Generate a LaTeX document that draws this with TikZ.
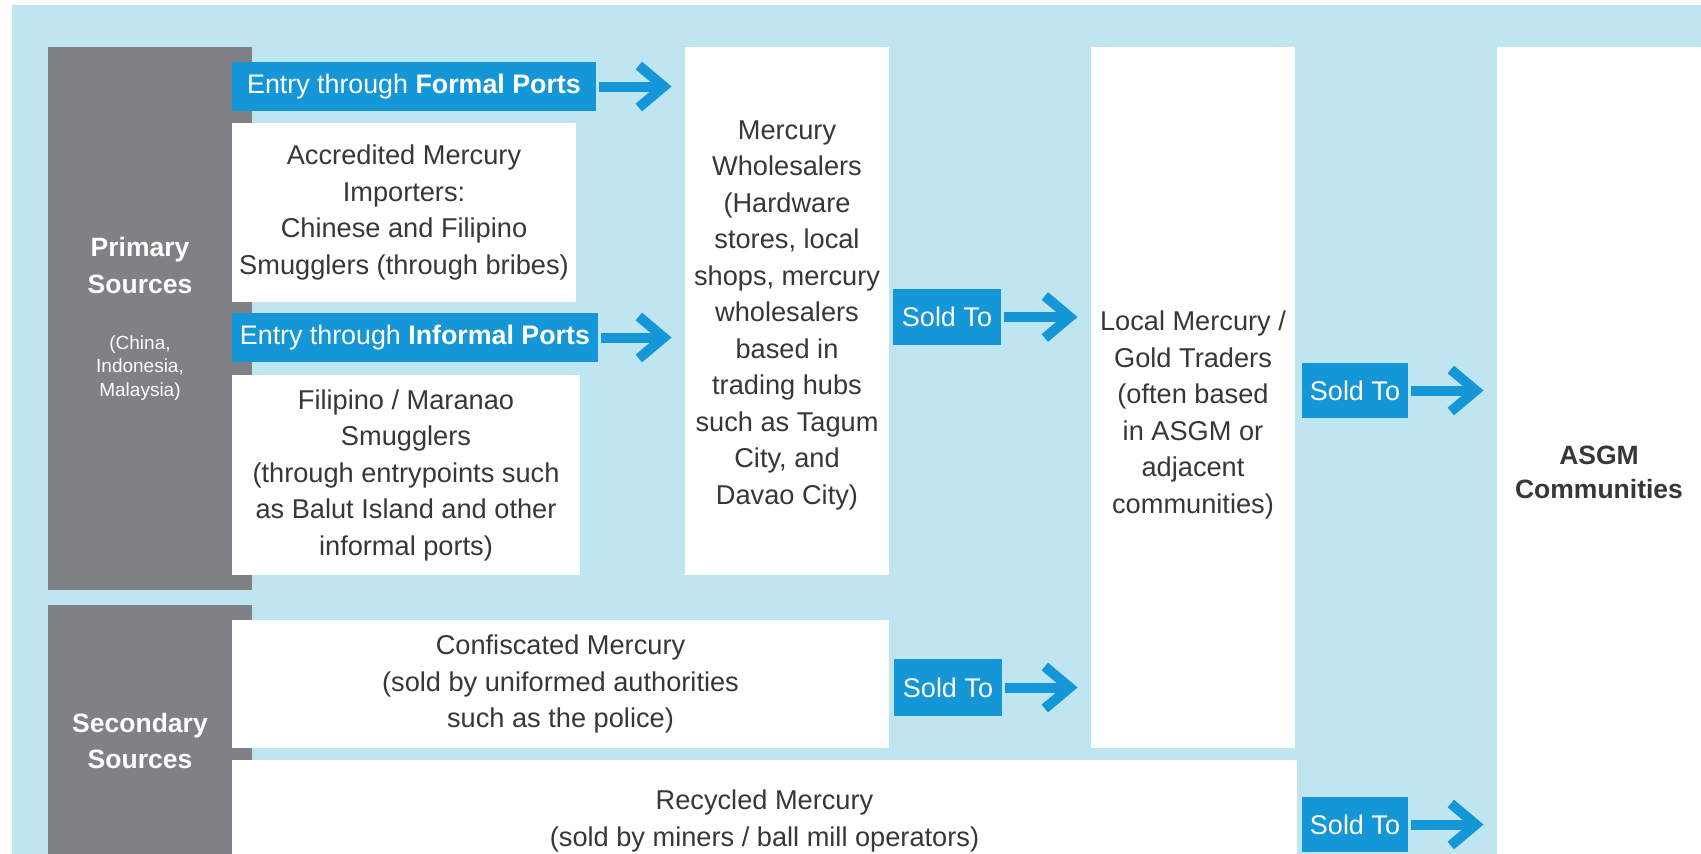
\documentclass[tikz,border=0pt]{standalone}
\usepackage{fontspec}
\setmainfont{Liberation Sans}
\newfontfamily\headfont{Liberation Sans}
\definecolor{bgblue}{RGB}{190,229,240}
\definecolor{srcgray}{RGB}{128,129,132}
\definecolor{flowblue}{RGB}{20,150,215}
\definecolor{txt}{RGB}{55,55,55}
\tikzset{
  wbox/.style={fill=white, inner sep=0pt, text=txt, align=center, font=\fontsize{27.2}{36.5}\selectfont},
  bluelabel/.style={fill=flowblue, inner sep=0pt, text=white, align=center, font=\fontsize{26.8}{30}\selectfont},
  soldbox/.style={fill=flowblue, inner sep=0pt, text=white, font=\fontsize{27}{30}\selectfont},
  graybox/.style={fill=srcgray, inner sep=0pt},
  head/.style={text=white, align=center, inner sep=0pt, font=\headfont\bfseries\fontsize{26.5}{36.5}\selectfont},
  subhead/.style={text=white, align=center, inner sep=0pt, font=\fontsize{19}{23.5}\selectfont},
  bodytext/.style={text=txt, align=center, inner sep=0pt, font=\fontsize{27.2}{36.5}\selectfont},
  asgmtext/.style={text=txt, align=center, inner sep=0pt, font=\headfont\bfseries\fontsize{26.5}{34}\selectfont},
  shaft/.style={draw=flowblue, line width=10pt},
  chev/.style={draw=flowblue, line width=10pt, miter limit=10},
}
\newcommand\flowto[2]{%
  \draw[shaft] ([xshift=3pt]#1.east) -- ([xshift=-21pt]#2.west |- #1.east);
  \draw[chev] ([xshift=-46pt,yshift=21pt]#2.west |- #1.east) -- ([xshift=-21pt]#2.west |- #1.east) -- ([xshift=-46pt,yshift=-21pt]#2.west |- #1.east);
}
\begin{document}
\begin{tikzpicture}[x=1pt,y=-1pt]
\useasboundingbox (0,0) rectangle (1701,854);
\fill[white] (0,0) rectangle (1701,854);
\fill[bgblue] (12,5) rectangle (1701,854);
% source columns
\node[graybox, minimum width=204pt, minimum height=543pt] (prim) at (150,318.5) {};
\node[graybox, minimum width=204pt, minimum height=249pt] (sec) at (150,729.5) {};
\node[head] (primt) at (140,265.5) {Primary\\Sources};
\node[subhead] (primsub) at (140,368) {(China,\\Indonesia,\\Malaysia)};
\node[head] (sect) at (140,741) {Secondary\\Sources};
% primary boxes
\node[bluelabel, minimum width=364pt, minimum height=49pt] (formal) at (414,86.5) {Entry through \textbf{Formal Ports}};
\node[wbox, minimum width=344pt, minimum height=179pt] (accr) at (404,212.5) {Accredited Mercury\\Importers:\\Chinese and Filipino\\Smugglers (through bribes)};
\node[bluelabel, minimum width=366pt, minimum height=49pt] (informal) at (415,337.5) {Entry through \textbf{Informal Ports}};
\node[wbox, minimum width=348pt, minimum height=200pt] (fili) at (406,475) {Filipino / Maranao\\Smugglers\\(through entrypoints such\\as Balut Island and other\\informal ports)};
\node[fill=white, inner sep=0pt, minimum width=204pt, minimum height=528pt] (whole) at (787,311) {};
\node[bodytext] (wholet) at (787,315) {Mercury\\Wholesalers\\(Hardware\\stores, local\\shops, mercury\\wholesalers\\based in\\trading hubs\\such as Tagum\\City, and\\Davao City)};
\node[soldbox, minimum width=108pt, minimum height=56pt] (sold1) at (947,317) {Sold To};
\node[fill=white, inner sep=0pt, minimum width=204pt, minimum height=701pt] (local) at (1193,397.5) {};
\node[bodytext] (localt) at (1193,415) {Local Mercury /\\Gold Traders\\(often based\\in ASGM or\\adjacent\\communities)};
\node[soldbox, minimum width=106pt, minimum height=55pt] (sold2) at (1355,390.5) {Sold To};
\node[fill=white, inner sep=0pt, minimum width=204pt, minimum height=807pt] (asgm) at (1599,450.5) {};
\node[asgmtext] (asgmt) at (1599,472) {ASGM\\Communities};
% secondary boxes
\node[wbox, minimum width=657pt, minimum height=128pt] (conf) at (560.5,684) {Confiscated Mercury\\(sold by uniformed authorities\\such as the police)};
\node[soldbox, minimum width=108pt, minimum height=57pt] (sold3) at (948,687.5) {Sold To};
\node[fill=white, inner sep=0pt, minimum width=1065pt, minimum height=94pt] (recy) at (764.5,807) {};
\node[bodytext] (recyt) at (764.5,821) {Recycled Mercury\\(sold by miners / ball mill operators)};
\node[soldbox, minimum width=106pt, minimum height=55pt] (sold4) at (1355,824.5) {Sold To};
% arrows
\flowto{formal}{whole}
\flowto{informal}{whole}
\flowto{sold1}{local}
\flowto{sold3}{local}
\flowto{sold2}{asgm}
\flowto{sold4}{asgm}
\end{tikzpicture}
\end{document}
